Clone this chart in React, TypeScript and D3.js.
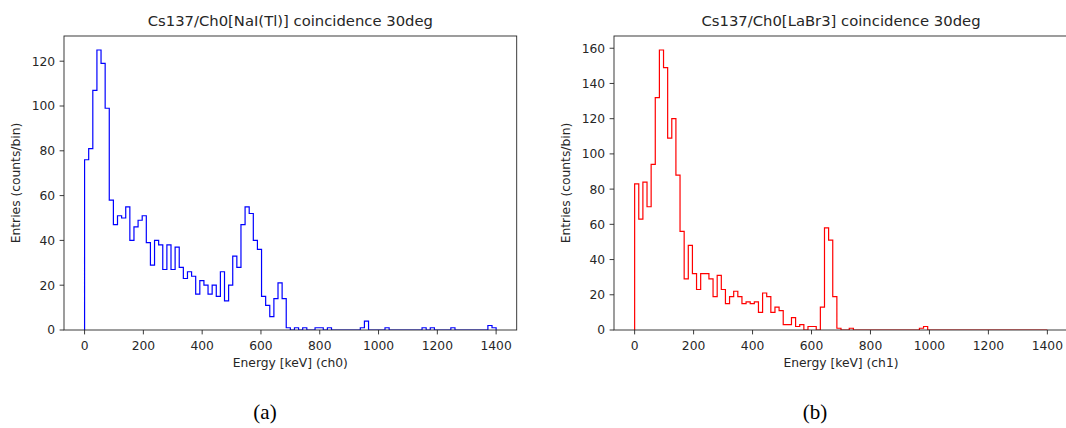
import React from "react";
import * as d3 from "d3";

// ---- data ----
const BIN_RANGE: [number, number] = [0, 1400];
const N_BINS = 100;

const nai_counts = [
  76, 81, 107, 125, 119, 99, 58, 47, 51, 50,
  55, 40, 46, 49, 51, 39, 29, 40, 38, 27,
  38, 27, 37, 28, 23, 26, 24, 16, 22, 20,
  16, 20, 15, 26, 13, 20, 33, 28, 47, 55,
  52, 40, 36, 15, 11, 6, 14, 21, 14, 1,
  0, 1, 0, 1, 0, 0, 1, 1, 0, 1,
  0, 0, 0, 0, 0, 0, 0, 1, 4, 0,
  0, 0, 0, 1, 0, 0, 0, 0, 0, 0,
  0, 0, 1, 0, 1, 0, 0, 0, 0, 1,
  0, 0, 0, 0, 0, 0, 0, 0, 2, 1,
];

const labr_counts = [
  83, 63, 84, 70, 94, 132, 159, 149, 109, 120,
  88, 56, 29, 48, 32, 23, 32, 32, 29, 19,
  31, 23, 15, 19, 22, 19, 15, 16, 15, 16,
  10, 21, 19, 10, 13, 11, 3, 3, 7, 2,
  3, 0, 2, 2, 0, 13, 58, 51, 19, 1,
  0, 0, 1, 0, 0, 0, 0, 0, 0, 0,
  0, 0, 0, 0, 0, 0, 0, 0, 0, 1,
  2, 0, 0, 0, 0, 0, 0, 0, 0, 0,
  0, 0, 0, 0, 0, 0, 0, 0, 0, 0,
  0, 0, 0, 0, 0, 0, 0, 0, 0, 0,
];

const x_ticks = [0, 200, 400, 600, 800, 1000, 1200, 1400];
const y_ticks_nai = [0, 20, 40, 60, 80, 100, 120];
const y_ticks_labr = [0, 20, 40, 60, 80, 100, 120, 140, 160];

const titles = [
  "Cs137/Ch0[NaI(Tl)] coincidence 30deg",
  "Cs137/Ch0[LaBr3] coincidence 30deg",
];
const x_labels = ["Energy [keV] (ch0)", "Energy [keV] (ch1)"];
const y_label = "Entries (counts/bin)";
const captions = ["(a)", "(b)"];

const FONT = "'DejaVu Sans', sans-serif";
const AX = "#262626";

type PanelProps = {
  id: string;
  left: number;
  width: number;
  counts: number[];
  yTicks: number[];
  color: string;
  title: string;
  xLabel: string;
  caption: string;
  captionX: number;
};

const TOP = 36;
const BOTTOM = 330;

function Panel(p: PanelProps) {
  const span = BIN_RANGE[1] - BIN_RANGE[0];
  const x = d3
    .scaleLinear()
    .domain([BIN_RANGE[0] - span * 0.05, BIN_RANGE[1] + span * 0.05])
    .range([p.left, p.left + p.width]);
  const ymax = (d3.max(p.counts) as number) * 1.05;
  const y = d3.scaleLinear().domain([0, ymax]).range([BOTTOM, TOP]);
  const edges = d3.range(N_BINS + 1).map((i) => BIN_RANGE[0] + (span * i) / N_BINS);

  const pts: [number, number][] = [[edges[0], 0]];
  p.counts.forEach((c, i) => {
    pts.push([edges[i], c]);
    pts.push([edges[i + 1], c]);
  });
  pts.push([edges[N_BINS], 0]);
  const line = d3
    .line<[number, number]>()
    .x((d) => x(d[0]))
    .y((d) => y(d[1]));

  const right = p.left + p.width;
  const cx = p.left + p.width / 2;
  const tickLen = 4.4;
  const pad = 4.4;

  return (
    <g>
      <defs>
        <clipPath id={p.id}>
          <rect x={p.left} y={TOP} width={p.width} height={BOTTOM - TOP} />
        </clipPath>
      </defs>
      <path
        d={line(pts) || ""}
        fill="none"
        stroke={p.color}
        strokeWidth={1.2}
        clipPath={`url(#${p.id})`}
      />
      {/* spines */}
      <rect
        x={p.left}
        y={TOP}
        width={p.width}
        height={BOTTOM - TOP}
        fill="none"
        stroke={AX}
        strokeWidth={0.9}
      />
      {/* x ticks */}
      {x_ticks.map((t) => (
        <g key={"x" + t}>
          <line x1={x(t)} x2={x(t)} y1={BOTTOM} y2={BOTTOM + tickLen} stroke={AX} strokeWidth={0.9} />
          <text
            x={x(t)}
            y={BOTTOM + tickLen + pad + 11}
            textAnchor="middle"
            fontFamily={FONT}
            fontSize={12.3}
            fill={AX}
          >
            {t}
          </text>
        </g>
      ))}
      {/* y ticks */}
      {p.yTicks.map((t) => (
        <g key={"y" + t}>
          <line x1={p.left - tickLen} x2={p.left} y1={y(t)} y2={y(t)} stroke={AX} strokeWidth={0.9} />
          <text
            x={p.left - tickLen - pad}
            y={y(t)}
            dy="0.36em"
            textAnchor="end"
            fontFamily={FONT}
            fontSize={12.3}
            fill={AX}
          >
            {t}
          </text>
        </g>
      ))}
      <text x={cx} y={367} textAnchor="middle" fontFamily={FONT} fontSize={12.3} fill={AX}>
        {p.xLabel}
      </text>
      <text
        transform={`translate(${p.left - 44},${(TOP + BOTTOM) / 2}) rotate(-90)`}
        textAnchor="middle"
        fontFamily={FONT}
        fontSize={12.3}
        fill={AX}
      >
        {y_label}
      </text>
      <text x={cx} y={26} textAnchor="middle" fontFamily={FONT} fontSize={14.8} fill={AX}>
        {p.title}
      </text>
      <text
        x={p.captionX}
        y={419}
        textAnchor="middle"
        fontFamily="'Liberation Serif', 'DejaVu Serif', serif"
        fontSize={21}
        fill="#000"
      >
        {p.caption}
      </text>
    </g>
  );
}

export default function App() {
  return (
    <svg
      width={1066}
      height={428}
      style={{ position: "absolute", left: 0, top: 0, background: "#fff" }}
    >
      <rect width={1066} height={428} fill="#fff" />
      <Panel
        id="clipA"
        left={64}
        width={452.7}
        counts={nai_counts}
        yTicks={y_ticks_nai}
        color="#0000ff"
        title={titles[0]}
        xLabel={x_labels[0]}
        caption={captions[0]}
        captionX={265}
      />
      <Panel
        id="clipB"
        left={614}
        width={454}
        counts={labr_counts}
        yTicks={y_ticks_labr}
        color="#ff0000"
        title={titles[1]}
        xLabel={x_labels[1]}
        caption={captions[1]}
        captionX={815}
      />
    </svg>
  );
}
